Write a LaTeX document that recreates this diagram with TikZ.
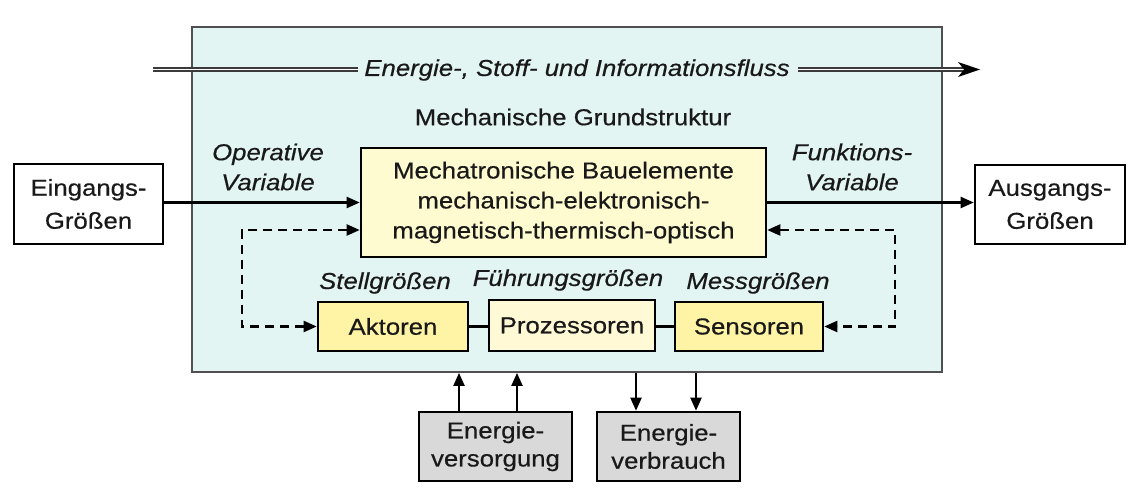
\documentclass[tikz,border=0pt]{standalone}
\usepackage{fontspec}
\setmainfont{Liberation Sans}[FakeStretch=1.12,FakeBold=0.5]
\usetikzlibrary{arrows.meta,calc}
\definecolor{bigfill}{HTML}{E3F5F3}
\definecolor{bigdraw}{HTML}{505050}
\definecolor{mechfill}{HTML}{FFFBD0}
\definecolor{actfill}{HTML}{FFF3A6}
\definecolor{procfill}{HTML}{FFF9D6}
\definecolor{grayfill}{HTML}{D9D9D9}
\definecolor{flowline}{HTML}{3A3A3A}
\tikzset{
  txt/.style={font=\fontsize{23}{30}\selectfont, align=center, inner sep=0pt, text=black!90},
  itxt/.style={txt, font=\fontsize{23}{30}\selectfont\itshape},
  boxed/.style={txt, draw=black, line width=2.6pt, minimum width=#1},
  arr/.style={line width=2.2pt, -{Triangle[length=13pt,width=11pt]}},
  darr/.style={line width=2.2pt, dash pattern=on 9pt off 6pt, {Triangle[length=13pt,width=11pt]}-{Triangle[length=13pt,width=11pt]}},
  dbl/.style={draw=flowline, double=white, double distance=1.8pt, line width=1.3pt},
}
\begin{document}
\begin{tikzpicture}[x=1pt,y=-1pt]
\path[use as bounding box] (0,0) rectangle (1142,502);
% big box
\node[draw=bigdraw, fill=bigfill, line width=1.8pt, minimum width=750pt, minimum height=345pt, inner sep=0pt] (big) at (567,199.5) {};
% flow
\node[itxt] (flow) at (577,70) {Energie-, Stoff- und Informationsfluss};
\coordinate (fl) at (153,69.5);
\coordinate (fr) at (980,69.5);
\draw[dbl] (fl) -- ([xshift=-6pt]flow.west |- fl);
\draw[dbl] ([xshift=8pt]flow.east |- fr) -- ([xshift=-14pt]fr);
\fill[black] (fr) -- ([shift={(-22,-7.5)}]fr) -- ([shift={(-16,0)}]fr) -- ([shift={(-22,7.5)}]fr) -- cycle;
\node[txt] (grund) at (573,117) {Mechanische Grundstruktur};
% main boxes
\node[boxed=405pt, fill=mechfill, minimum height=109pt] (mech) at (563.5,202.5) {Mechatronische Bauelemente\\mechanisch-elektronisch-\\magnetisch-thermisch-optisch};
\node[boxed=149pt, fill=white, minimum height=80pt, font=\fontsize{23}{33}\selectfont] (ein) at (88.5,204) {Eingangs-\\Größen};
\node[boxed=150pt, fill=white, minimum height=79pt, font=\fontsize{23}{33}\selectfont] (aus) at (1050,204.5) {Ausgangs-\\Größen};
\node[boxed=150pt, fill=actfill, minimum height=49pt] (akt) at (393,326.5) {Aktoren};
\node[boxed=166pt, fill=procfill, minimum height=51pt] (proz) at (572,325.5) {Prozessoren};
\node[boxed=148pt, fill=actfill, minimum height=49pt] (sens) at (749,326.5) {Sensoren};
\node[boxed=153pt, fill=grayfill, minimum height=69pt, font=\fontsize{23}{28}\selectfont] (vers) at (495.5,446.5) {Energie-\\versorgung};
\node[boxed=143pt, fill=grayfill, minimum height=69pt, font=\fontsize{23}{28}\selectfont] (verb) at (668.5,446.5) {Energie-\\verbrauch};
% labels
\node[itxt] (op) at (268,167) {Operative\\Variable};
\node[itxt] (fu) at (852,167) {Funktions-\\Variable};
\node[itxt] (stell) at (385,283) {Stellgrößen};
\node[itxt] (fuehr) at (568,280) {Führungsgrößen};
\node[itxt] (mess) at (758,283) {Messgrößen};
% connectors
\draw[arr] (ein.east |- mech.west) -- (mech.west);
\draw[arr] (mech.east) -- (aus.west |- mech.east);
\draw[line width=2.2pt] (akt.east) -- (akt.east -| proz.west);
\draw[line width=2.2pt] (proz.east |- sens.west) -- (sens.west);
\coordinate (dl) at (242,230);
\coordinate (dr) at (895,230);
\draw[darr] (mech.west |- dl) -- (dl) -- (dl |- akt.west) -- (akt.west);
\draw[darr] (mech.east |- dr) -- (dr) -- (dr |- sens.east) -- (sens.east);
\draw[arr] (459,0 |- vers.north) -- (459,0 |- big.south);
\draw[arr] (517,0 |- vers.north) -- (517,0 |- big.south);
\draw[arr] (636,0 |- big.south) -- (636,0 |- verb.north);
\draw[arr] (696,0 |- big.south) -- (696,0 |- verb.north);
\end{tikzpicture}
\end{document}
